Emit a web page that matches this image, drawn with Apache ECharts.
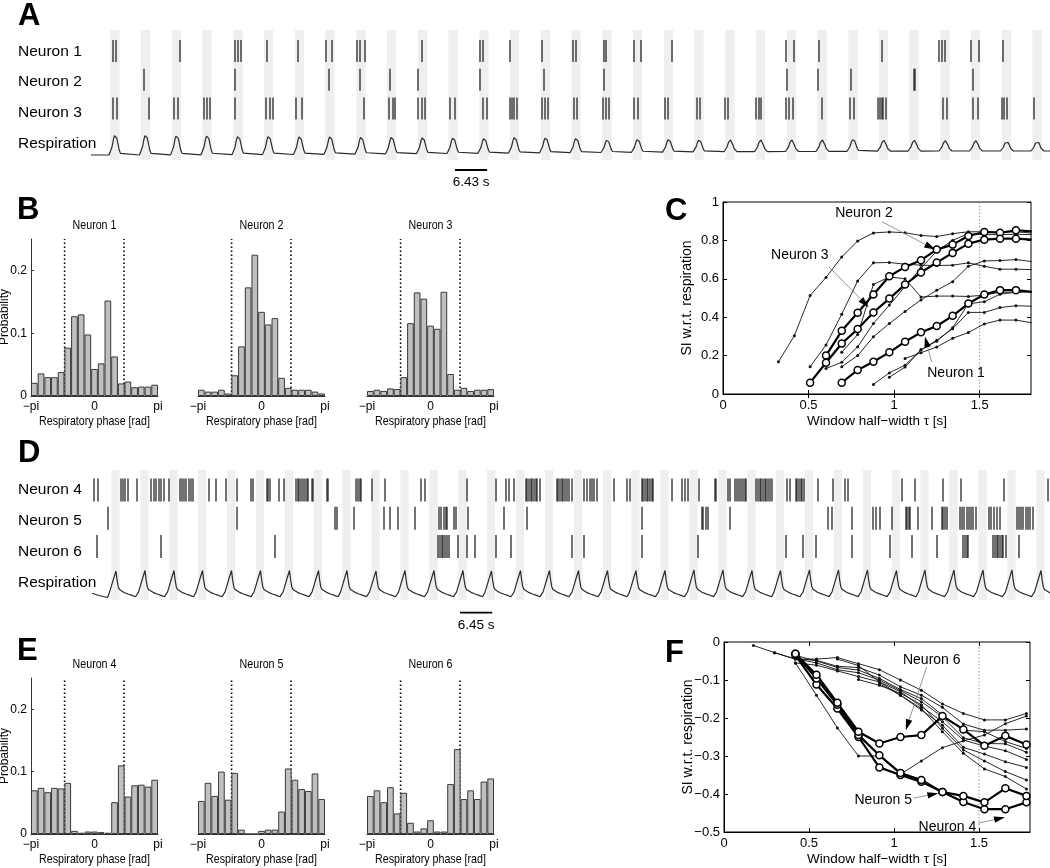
<!DOCTYPE html>
<html>
<head>
<meta charset="utf-8">
<script src="https://cdn.jsdelivr.net/npm/echarts@6.0.0/dist/echarts.min.js"></script>
<style>
html,body{margin:0;padding:0;background:#fff;}
#chart{width:1050px;height:868px;}
</style>
</head>
<body>
<div id="chart"></div>
<script>
// ======================= DATA =======================
// ---- Panel A : respiration cycles (peak time [s], peak level & baseline [a.u.]) ----
const respPeaksA = [4.8,10.9,17.1,23.2,29.4,35.5,41.7,47.8,54.0,60.1,66.3,72.4,78.6,84.7,90.9,97.0,103.2,109.3,115.5,121.6,127.8,133.9,140.1,146.2,152.4,158.5,164.6,170.8,176.9,183.1,189.2];
const respPeakLevelA = [20,20,19.5,19.5,19,19,18.5,18.5,18,18,17.5,17.3,16.7,17.7,17.3,16.7,15,15.7,15.7,15,15,15,15,15,15.7,14.7,14.7,14.3,14.3,14,14];
const respBaseA = [0,0,0.1,0.2,0.3,0.4,0.5,0.7,0.9,1.1,1.3,1.5,1.7,1.9,2.1,2.3,2.5,2.7,2.9,3.1,3.3,3.4,3.5,3.6,3.7,3.8,3.9,4,4,4,4];
// one breath waveform: [time from peak (s), fraction of peak height]
const breathShapeA = [[-1.2,0],[-0.9,0.1],[-0.6,0.4],[-0.3,0.8],[-0.1,0.97],[0.1,1.0],[0.35,0.85],[0.6,0.55],[0.85,0.25],[1.1,0.08],[1.4,0]];
// spike times [s]
const spikesN1 = [4.4,5.0,17.8,28.8,29.4,30.0,35.2,41.4,47.0,48.2,53.2,53.8,54.8,66.2,77.8,78.4,83.8,90.2,96.4,97.0,102.6,103.0,108.6,110.0,116.2,139.0,140.6,145.6,158.2,169.6,170.2,170.8,176.0,177.6,182.4];
const spikesN2 = [10.6,28.8,47.6,53.8,59.8,65.4,77.8,90.6,102.6,139.2,145.4,152.0,164.6,164.8,176.4];
const spikesN3 = [4.4,5.2,11.6,16.6,17.4,22.6,23.2,23.8,28.8,35.0,35.8,36.4,41.0,42.2,54.6,59.6,60.4,60.8,65.4,66.2,66.8,71.8,72.8,78.4,79.2,83.8,84.2,84.6,85.2,90.2,90.8,91.4,96.6,97.2,102.4,103.0,103.6,108.6,109.4,114.8,115.4,121.2,121.8,126.8,127.4,133.0,133.6,134.0,139.0,139.6,140.4,146.2,151.8,152.6,157.4,157.8,158.2,158.4,159.0,170.4,171.2,176.4,177.4,182.2,182.6,183.2,188.6];
const scaleBarA = 6.43;

// ---- Panel D ----
const respPeaksD = [5.0,10.8,16.6,22.3,28.1,33.9,39.7,45.5,51.2,57.0,62.8,68.6,74.4,80.1,85.9,91.7,97.5,103.3,109.0,114.8,120.6,126.4,132.2,137.9,143.7,149.5,155.3,161.1,166.8,172.6,178.4,184.2,190.0];
const respPeakLevelD = [26.5,27,27,27,27,27,27,27,27,26.5,27,27,27,26.5,27,27,27,27,27,27,27.5,27.5,27,27,27.5,27.5,27.5,27,27.5,27.5,27.5,27.5,27];
const breathShapeD = [[-1.7,0],[-1.3,0.2],[-0.9,0.45],[-0.45,0.73],[0,1],[0.2,0.68],[0.45,0.4],[0.7,0.3],[1.0,0.25],[1.6,0.19],[2.4,0.13],[3.2,0.08],[3.9,0.03]];
const respLeadD = [[0.2,4.2],[1.6,2.0]];
const spikesN4 = [0.6,1.4,6.0,6.4,6.8,7.4,9.2,12.0,12.6,13.0,13.6,14.0,14.6,15.6,17.8,18.2,18.6,19.0,19.6,20.0,20.4,23.6,25.0,27.0,29.2,32.0,32.4,35.2,35.4,35.8,37.6,38.6,41.0,41.4,41.6,42.0,42.4,42.8,43.2,43.4,44.2,44.4,47.2,47.4,53.0,53.4,53.8,54.0,56.2,58.8,66.0,66.8,75.2,81.0,83.0,83.6,84.6,87.0,87.2,87.6,88.0,88.2,88.6,89.0,89.2,89.8,93.2,93.4,93.8,94.2,94.4,94.8,95.2,95.6,96.2,98.6,99.2,99.8,100.2,100.6,101.2,104.6,107.2,107.8,110.2,110.4,110.8,111.2,111.4,111.8,112.2,112.4,116.2,118.2,118.8,119.4,121.6,124.8,125.0,127.4,127.8,128.8,129.2,129.6,130.0,130.4,130.8,131.0,133.0,133.4,133.8,134.0,134.4,134.8,135.0,135.4,135.8,136.2,139.2,139.8,141.0,141.2,141.6,142.0,142.2,142.6,145.4,148.4,150.8,151.4,162.2,164.8,170.4,174.0,182.6,191.4];
const spikesN5 = [3.4,29.2,48.8,49.2,52.6,58.6,59.8,61.4,64.8,69.6,70.0,70.6,71.0,71.2,72.6,73.0,75.4,82.6,87.2,110.2,122.2,122.4,123.0,123.4,127.8,147.4,148.2,152.2,156.4,157.0,157.8,160.2,163.0,163.2,163.6,163.8,165.4,168.2,170.2,170.4,170.8,171.2,173.8,174.2,174.6,175.2,175.6,176.0,176.4,177.0,179.6,180.0,180.6,181.2,181.8,185.2,185.6,186.0,186.4,187.0,187.4,187.8,188.4];
const spikesN6 = [1.2,14.0,36.8,69.4,69.8,70.2,70.4,70.8,71.2,71.6,73.4,75.2,76.8,81.0,84.0,96.2,98.6,110.2,121.4,139.0,142.4,145.0,152.2,159.8,164.2,169.2,174.4,174.8,175.2,175.4,180.4,180.8,181.2,181.4,181.8,182.2,182.4,183.0,185.6];
const scaleBarD = 6.45;

// ---- Panels B and E : phase histograms (19 bins from -pi to pi) ----
const histN1 = [0.021,0.036,0.030,0.030,0.038,0.077,0.127,0.130,0.098,0.043,0.052,0.152,0.063,0.020,0.023,0.014,0.015,0.015,0.018];
const histN2 = [0.010,0.007,0.007,0.010,0.004,0.033,0.079,0.173,0.225,0.134,0.114,0.124,0.029,0.013,0.010,0.010,0.010,0.007,0.004];
const histN3 = [0.008,0.010,0.008,0.012,0.011,0.030,0.116,0.165,0.155,0.112,0.107,0.166,0.035,0.010,0.013,0.008,0.010,0.010,0.011];
const histN4 = [0.070,0.074,0.067,0.074,0.073,0.082,0.005,0.002,0.004,0.004,0.003,0.002,0.051,0.110,0.060,0.078,0.079,0.076,0.087];
const histN5 = [0.053,0.082,0.061,0.100,0.055,0.098,0.007,0,0,0.005,0.007,0.007,0.036,0.105,0.087,0.072,0.069,0.097,0.056];
const histN6 = [0.061,0.070,0.051,0.075,0.033,0.066,0.018,0.004,0.009,0.022,0.004,0.004,0.080,0.136,0.056,0.070,0.056,0.084,0.089];
const phaseBounds = [-1.48, 1.46];

// ---- Panel C : SI vs window half-width ----
const tauC = [0.324,0.417,0.509,0.602,0.694,0.787,0.879,0.972,1.064,1.157,1.249,1.342,1.434,1.527,1.619,1.712,1.804];
const siC_N1 = [null,null,null,null,0.059,0.125,0.168,0.217,0.272,0.321,0.354,0.407,0.471,0.518,0.541,0.541,0.532];
const siC_N2 = [null,null,null,0.200,0.329,0.423,0.518,0.613,0.662,0.697,0.752,0.778,0.823,0.844,0.840,0.853,0.847];
const siC_N3 = [null,null,0.059,0.163,0.263,0.338,0.425,0.497,0.570,0.633,0.685,0.735,0.783,0.804,0.809,0.809,0.804];
const siC_other1 = [0.168,0.303,0.513,0.607,0.714,0.797,0.839,0.844,0.840,0.826,0.820,0.835,0.845,0.845,0.840,0.845,0.838];
const siC_other2 = [null,null,0.142,0.255,0.416,0.589,0.683,0.685,0.676,0.671,0.669,0.671,0.683,0.665,0.650,0.650,0.648];
const siC_other3 = [null,null,null,0.133,0.165,0.246,0.367,0.463,0.560,0.655,0.745,0.800,0.835,0.830,0.830,0.832,0.830];
const siC_other4 = [null,null,null,null,0.217,0.310,0.570,0.610,0.600,0.505,0.510,0.510,0.508,0.515,0.530,0.530,0.532];
const siC_other5 = [null,null,null,null,0.142,0.200,0.298,0.367,0.430,0.490,0.540,0.585,0.665,0.693,0.695,0.700,0.690];
const siC_other6 = [null,null,null,null,null,null,0.050,0.110,0.150,0.230,0.275,0.345,0.470,0.480,0.520,0.530,0.535];
const siC_other7 = [null,null,null,null,null,null,null,0.087,0.140,0.230,0.280,0.340,0.425,0.425,0.450,0.460,0.457];
const siC_other8 = [null,null,null,null,null,null,null,null,0.185,0.215,0.245,0.290,0.320,0.365,0.385,0.385,0.371];

// ---- Panel F ----
const tauF = [0.173,0.297,0.420,0.544,0.667,0.791,0.914,1.038,1.161,1.285,1.408,1.532,1.655,1.779];
const siF_N4 = [null,null,-0.035,-0.112,-0.175,-0.250,-0.330,-0.350,-0.368,-0.395,-0.421,-0.440,-0.440,-0.422];
const siF_N5 = [null,null,-0.031,-0.096,-0.165,-0.245,-0.298,-0.345,-0.363,-0.395,-0.405,-0.422,-0.385,-0.405];
const siF_N6 = [null,null,-0.031,-0.086,-0.160,-0.236,-0.267,-0.250,-0.245,-0.195,-0.230,-0.273,-0.247,-0.270];
const siF_other1 = [-0.009,-0.028,-0.045,-0.045,-0.041,-0.057,-0.073,-0.100,-0.127,-0.163,-0.188,-0.205,-0.205,-0.188];
const siF_other2 = [null,-0.028,-0.045,-0.048,-0.064,-0.067,-0.087,-0.118,-0.140,-0.172,-0.216,-0.232,-0.232,-0.229];
const siF_other3 = [null,null,-0.035,-0.050,-0.067,-0.074,-0.096,-0.125,-0.149,-0.192,-0.232,-0.236,-0.262,-0.280];
const siF_other4 = [null,null,-0.044,-0.055,-0.073,-0.081,-0.100,-0.128,-0.157,-0.197,-0.252,-0.267,-0.268,-0.290];
const siF_other5 = [null,null,-0.055,-0.061,-0.076,-0.091,-0.105,-0.131,-0.170,-0.210,-0.258,-0.274,-0.286,-0.309];
const siF_other6 = [null,null,null,null,-0.045,-0.062,-0.105,-0.140,-0.179,-0.219,-0.277,-0.295,-0.315,-0.330];
const siF_other7 = [null,null,null,null,null,-0.099,-0.114,-0.135,-0.165,-0.227,-0.284,-0.313,-0.341,-0.363];
const siF_other8 = [null,null,null,null,null,null,-0.110,-0.140,-0.175,-0.236,-0.293,-0.334,-0.354,-0.387];
const siF_other9 = [null,null,-0.055,-0.140,-0.226,-0.300,-0.300,-0.348,-0.313,-0.278,-0.260,-0.245,-0.215,-0.195];
const tauMark = 1.5;

// ======================= LAYOUT / STYLE =======================
const FS = '"Liberation Sans", Arial, Helvetica, sans-serif';
const INK = '#000';
const BAND = '#efefef';
const SPIKE = '#151515';
const NARROW = 0.82;   // horizontal squeeze for the condensed histogram typeface

const grids = [], xAxes = [], yAxes = [], series = [], graphics = [];
const addGrid = g => grids.push(Object.assign({containLabel:false}, g)) - 1;
const addX = a => xAxes.push(a) - 1;
const addY = a => yAxes.push(a) - 1;

function txt(x, y, text, font, extra, align) {
  return Object.assign({type:'text', x:x, y:y, silent:true,
    style:{text:text, font:font, fill:INK, align:align || 'center', verticalAlign:'middle'}}, extra || {});
}

function buildTrace(peaks, levels, bases, shape, lead, tail) {
  const pts = lead.slice();
  peaks.forEach((p, k) => {
    const b = bases ? bases[k] : 0;
    const a = levels[k] - b;
    shape.forEach(([dt, f]) => pts.push([+(p + dt).toFixed(3), +(b + f * a).toFixed(3)]));
  });
  if (tail) pts.push(tail);
  return pts;
}

function rasterPanel(top, peaks, levels, bases, shape, lead, tail, spikeSets, bandL, bandR, tickH, rowMin, rowMax, respMin, respMax, bar, barLabel) {
  const g = addGrid({left:91, top:top, width:959, height:130});
  const xi = addX({type:'value', gridIndex:g, min:0, max:191.8, show:false});
  const yRow = addY({type:'value', gridIndex:g, min:rowMin, max:rowMax, inverse:true, show:false});
  const yResp = addY({type:'value', gridIndex:g, min:respMin, max:respMax, show:false});
  series.push({
    type:'line', xAxisIndex:xi, yAxisIndex:yResp, z:2, silent:true,
    data: buildTrace(peaks, levels, bases, shape, lead, tail),
    symbol:'none', lineStyle:{color:'#2a2a2a', width:1.2},
    markArea:{silent:true, z:1, itemStyle:{color:BAND}, data: peaks.map(p => [{xAxis:p - bandL}, {xAxis:p + bandR}])}
  });
  spikeSets.forEach((sp, r) => {
    series.push({type:'scatter', xAxisIndex:xi, yAxisIndex:yRow, z:3, silent:true,
      data: sp.map(t => [t, r + 1]), symbol:'rect', symbolSize:[1.5, tickH],
      itemStyle:{color:SPIKE}});
  });
  series.push({type:'custom', xAxisIndex:xi, yAxisIndex:yResp, z:4, silent:true, clip:false,
    data:[[bar.start, bar.start + bar.len]],
    renderItem:(params, api) => {
      const a = api.coord([api.value(0), bar.y]);
      const b = api.coord([api.value(1), bar.y]);
      return {type:'group', children:[
        {type:'line', shape:{x1:a[0], y1:a[1], x2:b[0], y2:b[1]}, style:{stroke:'#000', lineWidth:1.8}},
        {type:'text', x:(a[0] + b[0]) / 2, y:a[1] + 12.5,
          style:{text:barLabel, font:'13.5px ' + FS, fill:'#000', align:'center', verticalAlign:'middle'}}
      ]};
    }});
}

// Panel A
rasterPanel(30, respPeaksA, respPeakLevelA, respBaseA, breathShapeA, [[0, respBaseA[0]]], [191.8, respBaseA[respBaseA.length - 1]],
  [spikesN1, spikesN2, spikesN3], 0.94, 0.94, 22, 0.27, 4.79, -5, 125,
  {start:72.8, len:scaleBarA, y:-15}, scaleBarA + ' s');
// Panel D
rasterPanel(470, respPeaksD, respPeakLevelD, null, breathShapeD, respLeadD, null,
  [spikesN4, spikesN5, spikesN6], 0.94, 0.74, 23, 0.292, 4.894, -2.5, 127.5,
  {start:73.8, len:scaleBarD, y:-15.2}, scaleBarD + ' s');

// row labels
const rowFont = '15.5px ' + FS;
[['Neuron 1',52],['Neuron 2',81.5],['Neuron 3',113],['Respiration',143.5],
 ['Neuron 4',490],['Neuron 5',521],['Neuron 6',551.5],['Respiration',582.5]].forEach(([t, y]) => {
  graphics.push(txt(18, y, t, rowFont, null, 'left'));
});

// Histogram panels
const histLeft = [31, 198, 367];
const bins = histN1.map((_, i) => 'b' + (i + 1));
const phaseLabel = v => (v < -1 ? '\u2212pi' : (v > 1 ? 'pi' : '0'));
const histFont = '13px ' + FS;
function histPanel(col, top, height, data, title) {
  const g = addGrid({left:histLeft[col], top:top, width:127, height:height});
  const xc = addX({type:'category', gridIndex:g, data:bins, position:'top', show:false, boundaryGap:true});
  const xv = addX({type:'value', gridIndex:g, position:'bottom', min:-Math.PI, max:Math.PI, interval:Math.PI,
    axisLine:{show:true, onZero:false, lineStyle:{color:'#333', width:1}}, axisTick:{show:false}, splitLine:{show:false},
    axisLabel:{formatter:phaseLabel, fontFamily:FS, fontSize:12, color:INK, margin:5, showMinLabel:true, showMaxLabel:true}});
  const yi = addY({type:'value', gridIndex:g, min:0, max:0.25, interval:0.1, show:col === 0, position:'left',
    axisLine:{show:true, onZero:false, lineStyle:{color:'#333', width:1}},
    axisTick:{show:true, inside:true, length:3, lineStyle:{color:'#333'}, customValues:[0, 0.1, 0.2]},
    splitLine:{show:false},
    axisLabel:{fontFamily:FS, fontSize:12, color:INK, margin:4, customValues:[0, 0.1, 0.2], formatter:v => (v === 0 ? '0' : v.toFixed(1))}});
  series.push({type:'bar', xAxisIndex:xc, yAxisIndex:yi, data:data, barCategoryGap:'0%', barWidth:'100%', z:3, silent:true,
    itemStyle:{color:'#c0c0c0', borderColor:'#3a3a3a', borderWidth:1}});
  phaseBounds.forEach(b => series.push({type:'line', xAxisIndex:xv, yAxisIndex:yi, z:1, silent:true,
    data:[[b, 0], [b, 0.25]], symbol:'none', lineStyle:{color:'#000', width:1.6, type:[1.6, 2.4]}}));
  const cx = histLeft[col] + 63.5;
  graphics.push(txt(cx, top - 14, title, histFont, {scaleX:NARROW}));
  graphics.push(txt(cx, top + height + 25, 'Respiratory phase [rad]', histFont, {scaleX:NARROW}));
}
histPanel(0, 239, 157, histN1, 'Neuron 1');
histPanel(1, 239, 157, histN2, 'Neuron 2');
histPanel(2, 239, 157, histN3, 'Neuron 3');
histPanel(0, 678, 156, histN4, 'Neuron 4');
histPanel(1, 678, 156, histN5, 'Neuron 5');
histPanel(2, 678, 156, histN6, 'Neuron 6');
graphics.push(txt(5, 317, 'Probability', '12px ' + FS, {rotation:Math.PI / 2}));
graphics.push(txt(5, 756, 'Probability', '12px ' + FS, {rotation:Math.PI / 2}));

// SI panels
const fmtNum = v => {
  if (Math.abs(v) < 1e-9) return '0';
  return String(+v.toFixed(2)).replace('-', '\u2212');
};
function siPanel(left, top, width, height, yMin, yMax, thin, thick, tau, ann) {
  const step = (yMax - yMin) === 1 ? 0.2 : 0.1;
  const g = addGrid({left:left, top:top, width:width, height:height, show:true, borderColor:'#000', borderWidth:1, backgroundColor:'rgba(0,0,0,0)'});
  const xi = addX({type:'value', gridIndex:g, min:0, max:1.8, interval:0.5, position:'bottom',
    axisLine:{show:true, onZero:false, lineStyle:{color:'#000'}},
    axisTick:{show:true, inside:true, length:4, lineStyle:{color:'#000'}, customValues:[0, 0.5, 1, 1.5]},
    splitLine:{show:false},
    axisLabel:{fontFamily:FS, fontSize:13, color:INK, margin:5, customValues:[0, 0.5, 1, 1.5], formatter:fmtNum}});
  addX({type:'value', gridIndex:g, min:0, max:1.8, position:'top', axisLine:{show:false},
    axisTick:{show:true, inside:true, length:4, lineStyle:{color:'#000'}, customValues:[0.5, 1, 1.5]},
    axisLabel:{show:false}, splitLine:{show:false}});
  const yi = addY({type:'value', gridIndex:g, min:yMin, max:yMax, interval:step, position:'left',
    axisLine:{show:true, onZero:false, lineStyle:{color:'#000'}},
    axisTick:{show:true, inside:true, length:4, lineStyle:{color:'#000'}},
    splitLine:{show:false},
    axisLabel:{fontFamily:FS, fontSize:13, color:INK, margin:4, formatter:fmtNum}});
  addY({type:'value', gridIndex:g, min:yMin, max:yMax, interval:step, position:'right',
    axisLine:{show:false, onZero:false}, axisTick:{show:true, inside:true, length:4, lineStyle:{color:'#000'}},
    axisLabel:{show:false}, splitLine:{show:false}});
  const toXY = ys => tau.map((x, i) => (ys[i] == null ? null : [x, ys[i]])).filter(p => p);
  series.push({type:'line', xAxisIndex:xi, yAxisIndex:yi, z:1, silent:true, data:[[tauMark, yMin], [tauMark, yMax]],
    symbol:'none', lineStyle:{color:'#777', width:0.9, type:[1.2, 2.2]}});
  thin.forEach(ys => series.push({type:'line', xAxisIndex:xi, yAxisIndex:yi, z:2, silent:true, data:toXY(ys),
    symbol:'circle', symbolSize:3, showSymbol:true, itemStyle:{color:'#111'}, lineStyle:{color:'#111', width:0.9}}));
  thick.forEach(ys => series.push({type:'line', xAxisIndex:xi, yAxisIndex:yi, z:3, silent:true, data:toXY(ys),
    symbol:'circle', symbolSize:7, showSymbol:true, itemStyle:{color:'#fff', borderColor:'#000', borderWidth:1.5},
    lineStyle:{color:'#000', width:2.2}}));
  series.push({type:'custom', xAxisIndex:xi, yAxisIndex:yi, z:6, silent:true, clip:false,
    data: ann.map(a => [a.from[0], a.from[1], a.to[0], a.to[1]]),
    renderItem:(params, api) => {
      const p1 = api.coord([api.value(0), api.value(1)]), p2 = api.coord([api.value(2), api.value(3)]);
      const dx = p2[0] - p1[0], dy = p2[1] - p1[1], L = Math.hypot(dx, dy) || 1, ux = dx / L, uy = dy / L;
      const hl = Math.min(11, L * 0.6), hw = 3.3;
      const bx = p2[0] - ux * hl, by = p2[1] - uy * hl;
      return {type:'group', children:[
        {type:'line', shape:{x1:p1[0], y1:p1[1], x2:bx, y2:by}, style:{stroke:'#8a8a8a', lineWidth:0.9}},
        {type:'polygon', shape:{points:[[p2[0], p2[1]], [bx - uy * hw, by + ux * hw], [bx + uy * hw, by - ux * hw]]}, style:{fill:'#000'}}
      ]};
    }});
  series.push({type:'custom', xAxisIndex:xi, yAxisIndex:yi, z:7, silent:true, clip:false,
    data: ann.map(a => a.at),
    renderItem:(params, api) => {
      const p = api.coord([api.value(0), api.value(1)]);
      return {type:'text', x:p[0], y:p[1], style:{text:ann[params.dataIndex].text, font:'14px ' + FS, fill:'#000', align:'center', verticalAlign:'middle'}};
    }});
  graphics.push(txt(left + width / 2, top + height + 27, 'Window half\u2212width \u03c4 [s]', '13.5px ' + FS));
  graphics.push(txt(left - 36, top + height / 2, 'SI w.r.t. respiration', '14px ' + FS, {rotation:Math.PI / 2}));
}
const annotC = [
  {text:'Neuron 2', at:[0.824, 0.943], from:[0.93, 0.897], to:[1.24, 0.752]},
  {text:'Neuron 3', at:[0.449, 0.724], from:[0.619, 0.663], to:[0.851, 0.452]},
  {text:'Neuron 1', at:[1.362, 0.109], from:[1.22, 0.165], to:[1.18, 0.30]}
];
const annotF = [
  {text:'Neuron 6', at:[1.222, -0.047], from:[1.192, -0.066], to:[1.069, -0.232]},
  {text:'Neuron 5', at:[0.937, -0.416], from:[1.114, -0.411], to:[1.261, -0.398]},
  {text:'Neuron 4', at:[1.314, -0.486], from:[1.496, -0.477], to:[1.653, -0.461]}
];
siPanel(723, 202, 308, 192, 0, 1,
  [siC_other1, siC_other2, siC_other3, siC_other4, siC_other5, siC_other6, siC_other7, siC_other8],
  [siC_N1, siC_N2, siC_N3], tauC, annotC);
siPanel(724, 642, 306, 190, -0.5, 0,
  [siF_other1, siF_other2, siF_other3, siF_other4, siF_other5, siF_other6, siF_other7, siF_other8, siF_other9],
  [siF_N4, siF_N5, siF_N6], tauF, annotF);

// panel letters
const letterFont = 'bold 31px ' + FS;
[['A',18,16],['B',17,210.5],['C',665,211],['D',18,453.5],['E',17,651],['F',665,653]].forEach(([t, x, y]) => {
  graphics.push(txt(x, y, t, letterFont, null, 'left'));
});

const chart = echarts.init(document.getElementById('chart'), null, {renderer:'canvas'});
chart.setOption({
  animation:false,
  backgroundColor:'#fff',
  grid:grids, xAxis:xAxes, yAxis:yAxes, series:series,
  graphic:{elements:graphics}
});
</script>
</body>
</html>
